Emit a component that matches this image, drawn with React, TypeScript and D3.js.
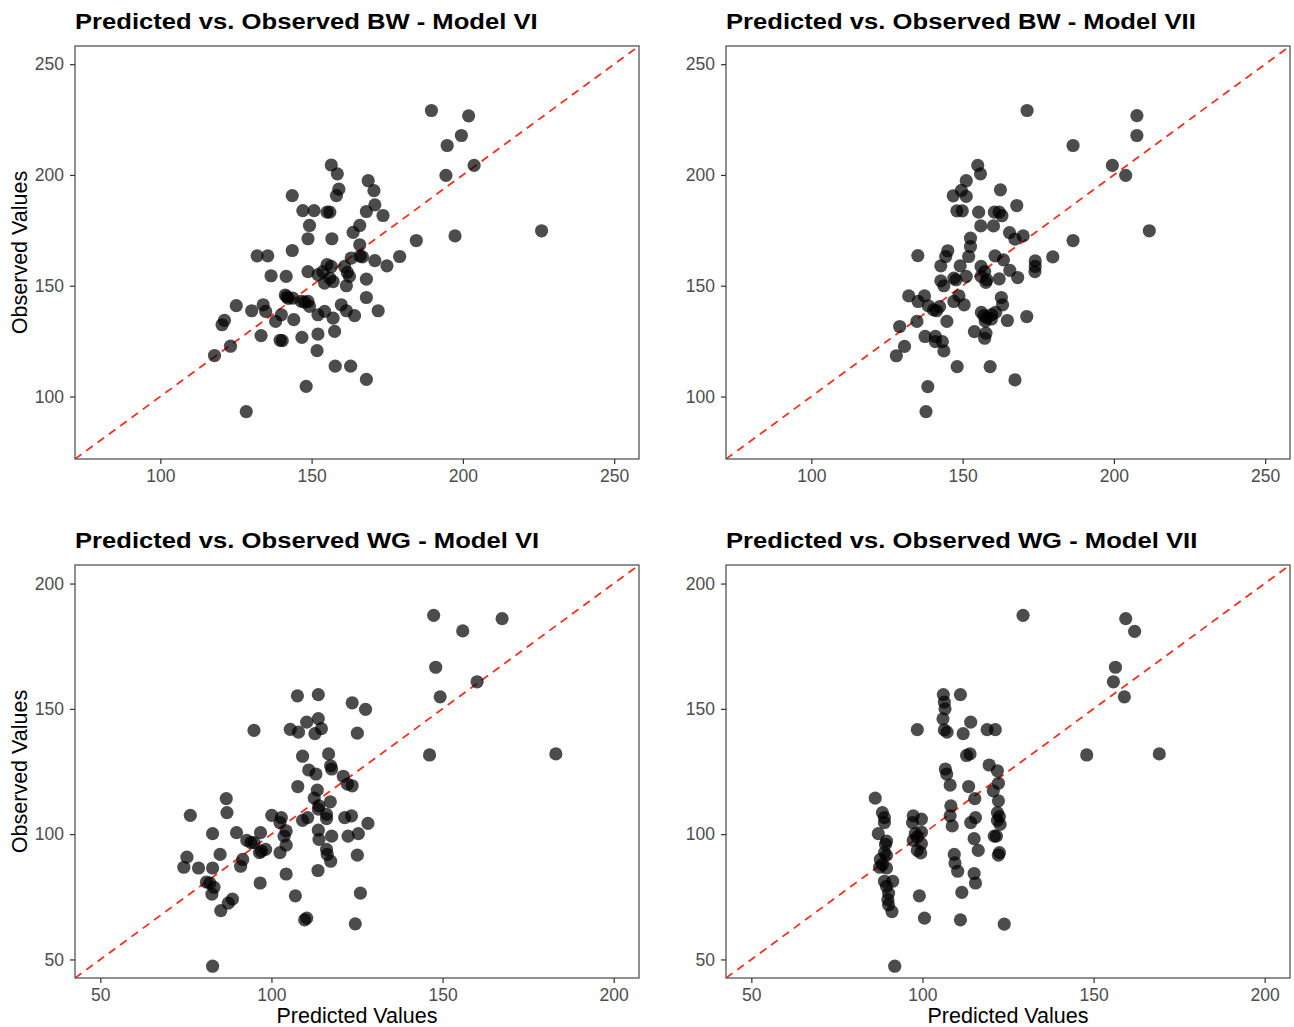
import React, { useEffect, useRef } from "react";
import * as d3 from "d3";

const titles = [
  "Predicted vs. Observed BW - Model VI",
  "Predicted vs. Observed BW - Model VII",
  "Predicted vs. Observed WG - Model VI",
  "Predicted vs. Observed WG - Model VII",
];
const xTitle = "Predicted Values";
const yTitle = "Observed Values";

const bwTicks = [100, 150, 200, 250];
const wgTicks = [50, 100, 150, 200];
const bwLimits = [71.8, 258.2];
const wgLimits = [42.6, 207.4];

// BW - Model VI
const bwVIPredicted = [
  189.6, 201.9, 199.5, 194.8, 194.4, 203.7, 197.4, 226.0, 184.6, 179.1,
  174.9, 170.9, 156.5, 158.5, 159.0, 158.2, 168.7, 170.6, 170.9, 168.1,
  173.6, 143.6, 147.1, 150.8, 155.1, 156.0, 149.3, 148.8, 156.7, 165.9,
  163.7, 143.6, 132.0, 135.5, 165.9, 166.0, 166.8, 163.1, 160.9, 161.8,
  162.5, 161.5, 168.1, 168.1, 172.0, 159.8, 161.5, 164.2, 155.1, 156.5,
  153.7, 152.1, 156.0, 154.3, 157.1, 148.8, 141.6, 136.6, 141.3, 141.8,
  142.3, 146.6, 147.7, 149.3, 154.3, 152.1, 157.1, 157.6, 152.1, 151.8,
  157.8, 162.9, 168.1, 148.2, 144.1, 146.8, 139.6, 140.3, 133.3, 138.1,
  140.0, 134.0, 134.8, 130.2, 125.1, 121.2, 120.4, 123.2, 117.9, 128.4,
  148.8, 143.8,
];
const bwVIObserved = [
  229.1, 226.7, 217.8, 213.3, 199.8, 204.3, 172.5, 174.8, 170.4, 163.2,
  159.0, 161.3, 204.5, 200.5, 193.6, 190.7, 197.4, 192.9, 186.5, 183.5,
  181.7, 190.7, 183.9, 183.9, 183.2, 183.2, 177.2, 171.2, 171.2, 177.2,
  174.1, 165.9, 163.5, 163.5, 168.5, 163.4, 163.0, 162.5, 158.7, 156.0,
  154.2, 150.0, 153.0, 144.7, 138.7, 141.4, 138.7, 136.5, 159.5, 158.7,
  156.4, 155.0, 153.5, 151.2, 151.9, 156.4, 154.2, 154.5, 145.8, 145.0,
  144.3, 143.0, 142.6, 140.7, 138.4, 136.9, 135.4, 129.4, 128.2, 120.7,
  113.7, 113.7, 107.7, 104.6, 134.7, 126.7, 125.4, 125.2, 127.5, 133.9,
  136.9, 141.4, 138.4, 138.7, 141.0, 134.4, 132.4, 122.7, 118.5, 93.2,
  142.9, 144.4,
];

// BW - Model VII
const bwVIIPredicted = [
  171.3, 207.6, 207.6, 186.5, 199.5, 203.9, 211.7, 186.5, 179.8, 174.0,
  174.0, 173.9, 170.0, 167.9, 165.5, 167.3, 168.2, 165.6, 162.5, 162.1,
  160.5, 163.0, 160.2, 160.7, 163.5, 162.1, 162.8, 163.2, 164.8, 171.2,
  159.1, 167.3, 155.0, 155.9, 151.2, 146.9, 149.6, 151.2, 148.1, 149.9,
  155.3, 156.0, 152.6, 152.6, 152.0, 145.1, 144.4, 142.8, 149.2, 156.1,
  157.3, 158.0, 157.7, 156.1, 151.2, 147.8, 147.1, 142.8, 143.8, 135.2,
  132.2, 137.4, 135.3, 138.7, 140.4, 141.4, 142.4, 148.8, 147.1, 150.5,
  144.8, 134.9, 129.2, 130.8, 128.1, 137.6, 141.0, 141.0, 143.3, 143.8,
  148.2, 138.5, 137.9, 153.9, 157.7, 157.3, 156.2, 157.0, 158.0, 159.6,
  160.9, 159.5, 157.5,
];
const bwVIIObserved = [
  229.1, 226.8, 217.8, 213.3, 204.3, 199.8, 174.8, 170.4, 163.0, 161.2,
  158.7, 156.4, 172.5, 186.2, 174.0, 171.0, 153.7, 156.9, 193.3, 183.2,
  183.2, 181.6, 177.0, 163.5, 161.7, 153.1, 144.7, 141.4, 134.3, 136.1,
  113.5, 107.5, 204.3, 200.5, 197.4, 190.6, 193.0, 190.3, 183.8, 183.8,
  183.2, 177.0, 171.5, 167.7, 163.2, 165.8, 163.2, 159.0, 159.0, 158.7,
  156.4, 152.7, 151.5, 154.2, 154.2, 152.7, 153.4, 152.2, 150.0, 163.6,
  145.4, 145.4, 142.9, 140.9, 139.1, 138.7, 140.6, 145.4, 142.9, 141.4,
  133.9, 133.9, 131.6, 122.6, 118.4, 127.1, 127.1, 124.8, 124.8, 120.6,
  113.5, 104.5, 93.2, 129.3, 128.6, 126.3, 138.0, 136.5, 135.5, 137.0,
  138.0, 135.0, 134.0,
];

// WG - Model VI
const wgVIPredicted = [
  147.4, 167.4, 155.9, 148.0, 160.1, 149.3, 146.2, 183.1, 107.6, 113.7,
  123.6, 127.5, 94.9, 105.5, 107.9, 110.3, 113.7, 114.6, 112.7, 125.1,
  109.1, 116.7, 117.3, 117.6, 110.9, 113.0, 107.7, 121.0, 122.2, 123.6,
  113.4, 112.5, 113.9, 117.2, 100.1, 102.9, 102.5, 109.1, 110.6, 113.7,
  116.1, 116.1, 121.4, 123.4, 104.3, 103.7, 113.7, 117.6, 122.4, 125.4,
  128.2, 113.9, 104.3, 102.5, 116.1, 116.3, 117.3, 125.1, 113.6, 104.3,
  126.0, 107.0, 110.3, 109.7, 124.5, 82.8, 94.9, 97.1, 96.5, 92.8,
  94.0, 96.8, 98.3, 89.8, 96.7, 86.8, 87.0, 76.3, 82.8, 85.0,
  91.6, 91.0, 75.3, 74.4, 78.7, 82.8, 81.0, 82.0, 83.2, 82.6,
  88.6, 87.4, 85.2,
];
const wgVIObserved = [
  187.3, 186.0, 181.1, 166.6, 160.8, 154.8, 131.6, 132.0, 155.2, 155.7,
  152.4, 149.8, 141.4, 141.8, 140.7, 144.7, 146.1, 142.1, 140.1, 140.3,
  131.1, 132.0, 127.3, 126.0, 125.6, 124.0, 119.0, 123.1, 120.0, 119.3,
  117.6, 114.4, 111.3, 112.9, 107.5, 106.6, 104.6, 105.5, 106.6, 110.0,
  107.9, 106.2, 106.6, 107.3, 101.3, 99.2, 101.6, 99.2, 99.2, 100.2,
  104.3, 97.9, 95.6, 92.6, 93.9, 91.9, 89.2, 91.6, 85.5, 84.1,
  76.5, 75.4, 66.5, 65.8, 64.2, 47.3, 96.6, 93.2, 92.6, 97.5,
  96.6, 100.6, 93.9, 100.6, 80.5, 114.2, 108.6, 107.5, 100.2, 91.9,
  89.9, 87.2, 90.8, 86.8, 86.5, 86.5, 80.9, 80.5, 78.8, 76.1,
  74.1, 72.5, 69.5,
];

// WG - Model VII
const wgVIIPredicted = [
  129.4, 159.4, 162.0, 156.4, 155.8, 159.0, 148.0, 169.2, 98.5, 91.9,
  86.2, 88.3, 88.9, 88.9, 87.1, 89.5, 89.2, 88.9, 89.5, 87.7,
  88.3, 89.5, 87.5, 88.9, 91.3, 89.5, 90.1, 89.9, 90.1, 91.1,
  97.3, 97.1, 99.7, 97.9, 98.5, 97.3, 99.7, 98.5, 99.5, 99.7,
  99.1, 100.6, 106.1, 106.4, 106.6, 106.0, 106.4, 107.2, 111.1, 111.9,
  114.1, 106.7, 107.1, 108.1, 108.3, 108.1, 108.7, 109.3, 109.5, 110.3,
  111.5, 111.1, 112.9, 113.9, 113.5, 115.3, 114.1, 115.5, 115.1, 116.3,
  115.1, 115.5, 118.9, 121.3, 119.5, 121.9, 122.2, 120.7, 122.2, 121.9,
  122.5, 121.9, 122.7, 121.0, 121.6, 122.5, 122.2, 123.9,
];
const wgVIIObserved = [
  187.3, 186.0, 180.9, 166.6, 160.8, 154.8, 131.6, 132.0, 141.7, 47.3,
  114.4, 108.6, 106.6, 104.6, 100.2, 97.2, 95.9, 92.6, 91.5, 89.9,
  87.9, 86.5, 86.8, 81.2, 81.2, 79.2, 76.5, 73.9, 71.8, 69.1,
  107.3, 104.6, 106.0, 100.2, 98.9, 97.5, 96.2, 93.5, 92.5, 100.8,
  75.4, 66.5, 155.7, 152.7, 150.0, 146.0, 141.6, 140.7, 155.7, 140.1,
  144.7, 126.0, 124.0, 119.6, 111.3, 107.3, 103.3, 91.9, 88.5, 85.2,
  76.8, 65.8, 131.4, 132.0, 119.0, 114.2, 104.6, 106.6, 98.2, 93.5,
  84.3, 80.5, 141.7, 141.7, 127.6, 125.3, 120.3, 117.3, 113.3, 108.6,
  107.0, 105.5, 103.9, 99.2, 99.2, 92.6, 91.6, 64.1,
];

const FONT = "'Liberation Sans', Arial, Helvetica, sans-serif";

const App = () => {
  const svgRef = useRef<SVGSVGElement>(null);

  useEffect(() => {
    const width = 1294;
    const height = 1027;
    const panelW = 564;
    const panelH = 413;
    const lefts = [75, 726];
    const tops = [46, 565];

    const panels = [
      { title: titles[0], px: bwVIPredicted, py: bwVIObserved, lim: bwLimits, ticks: bwTicks, col: 0, row: 0 },
      { title: titles[1], px: bwVIIPredicted, py: bwVIIObserved, lim: bwLimits, ticks: bwTicks, col: 1, row: 0 },
      { title: titles[2], px: wgVIPredicted, py: wgVIObserved, lim: wgLimits, ticks: wgTicks, col: 0, row: 1 },
      { title: titles[3], px: wgVIIPredicted, py: wgVIIObserved, lim: wgLimits, ticks: wgTicks, col: 1, row: 1 },
    ];

    const svg = d3.select(svgRef.current);
    svg.selectAll("*").remove();
    svg.attr("width", width).attr("height", height).style("font-family", FONT);

    svg.append("rect").attr("width", width).attr("height", height).attr("fill", "#fff");

    panels.forEach((p, i) => {
      const left = lefts[p.col];
      const top = tops[p.row];
      const x = d3.scaleLinear().domain(p.lim).range([0, panelW]);
      const y = d3.scaleLinear().domain(p.lim).range([panelH, 0]);

      const g = svg.append("g").attr("transform", `translate(${left},${top})`);

      // title (reference glyphs are wider than Liberation's, so stretch a bit)
      g.append("text")
        .attr("transform", "translate(0,-17) scale(1.165,1)")
        .attr("font-size", 22)
        .attr("font-weight", "bold")
        .attr("fill", "#000")
        .text(p.title);

      const clipId = `clip-${i}`;
      g.append("clipPath")
        .attr("id", clipId)
        .append("rect")
        .attr("width", panelW)
        .attr("height", panelH);

      // identity line
      g.append("line")
        .attr("clip-path", `url(#${clipId})`)
        .attr("x1", x(p.lim[0]))
        .attr("y1", y(p.lim[0]))
        .attr("x2", x(p.lim[1]))
        .attr("y2", y(p.lim[1]))
        .attr("stroke", "#f5301f")
        .attr("stroke-width", 1.8)
        .attr("stroke-dasharray", "8,6");

      const pts = d3.zip(p.px, p.py);
      g.append("g")
        .attr("clip-path", `url(#${clipId})`)
        .selectAll("circle")
        .data(pts)
        .enter()
        .append("circle")
        .attr("cx", (d) => x(d[0]))
        .attr("cy", (d) => y(d[1]))
        .attr("r", 6.6)
        .attr("fill", "#000")
        .attr("fill-opacity", 0.7);

      // border
      g.append("rect")
        .attr("width", panelW)
        .attr("height", panelH)
        .attr("fill", "none")
        .attr("stroke", "#555")
        .attr("stroke-width", 1.3);

      const xAxis = g
        .append("g")
        .attr("transform", `translate(0,${panelH})`)
        .call(d3.axisBottom(x).tickValues(p.ticks).tickSize(5).tickPadding(6).tickFormat(d3.format("d")));
      const yAxis = g
        .append("g")
        .call(d3.axisLeft(y).tickValues(p.ticks).tickSize(5).tickPadding(6).tickFormat(d3.format("d")));

      [xAxis, yAxis].forEach((a) => {
        a.select(".domain").remove();
        a.selectAll("line").attr("stroke", "#333").attr("stroke-width", 1.2);
        a.selectAll("text")
          .attr("fill", "#4d4d4d")
          .attr("font-size", 17.5)
          .attr("font-family", FONT);
      });

      if (p.col === 0) {
        g.append("text")
          .attr("transform", `translate(${-48},${panelH / 2}) rotate(-90)`)
          .attr("text-anchor", "middle")
          .attr("font-size", 21.5)
          .attr("fill", "#000")
          .text(yTitle);
      }
      if (p.row === 1) {
        g.append("text")
          .attr("x", panelW / 2)
          .attr("y", panelH + 45)
          .attr("text-anchor", "middle")
          .attr("font-size", 21.5)
          .attr("fill", "#000")
          .text(xTitle);
      }
    });
  }, []);

  return (
    <div style={{ position: "absolute", left: 0, top: 0 }}>
      <svg ref={svgRef} style={{ display: "block" }}></svg>
    </div>
  );
};

export default App;
